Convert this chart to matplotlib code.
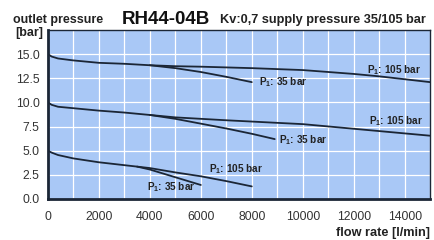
import matplotlib
matplotlib.use('Agg')
import matplotlib.pyplot as plt
from matplotlib.ticker import MultipleLocator

plt.rcParams['font.family'] = ['Liberation Sans', 'DejaVu Sans']
plt.rcParams['mathtext.default'] = 'regular'

# curvas (vazao em l/min, pressao de saida em bar)
x_alta_105 = [0, 150, 400, 1000, 2000, 3000, 4000, 5000, 6000, 8000, 10000, 12000, 13000, 15000]
y_alta_105 = [15.0, 14.75, 14.55, 14.35, 14.1, 14.0, 13.85, 13.75, 13.7, 13.55, 13.35, 12.95, 12.7, 12.1]
x_alta_35 = [4000, 5000, 6000, 7000, 8000]
y_alta_35 = [13.85, 13.55, 13.15, 12.65, 12.1]

x_media_105 = [0, 150, 400, 1000, 2000, 3000, 4000, 5000, 7000, 10000, 12500, 15000]
y_media_105 = [10.0, 9.75, 9.55, 9.4, 9.15, 8.95, 8.7, 8.45, 8.15, 7.75, 7.15, 6.55]
x_media_35 = [4000, 5000, 6000, 7000, 8000, 8900]
y_media_35 = [8.7, 8.3, 7.8, 7.3, 6.75, 6.2]

x_baixa_105 = [0, 150, 400, 1000, 2000, 3000, 4000, 5000, 6000, 7000, 8000]
y_baixa_105 = [5.0, 4.8, 4.55, 4.2, 3.8, 3.5, 3.2, 2.75, 2.35, 1.85, 1.3]
x_baixa_35 = [3500, 4000, 5000, 6000]
y_baixa_35 = [3.35, 3.05, 2.25, 1.45]

cor_linha = '#1b2636'
cor_fundo = '#a9c8f6'

fig = plt.figure(figsize=(4.35, 2.40), dpi=100)
ax = fig.add_axes([0.110, 0.171, 0.879, 0.704])
ax.set_facecolor(cor_fundo)

for xs, ys in [(x_alta_105, y_alta_105), (x_alta_35, y_alta_35),
               (x_media_105, y_media_105), (x_media_35, y_media_35),
               (x_baixa_105, y_baixa_105), (x_baixa_35, y_baixa_35)]:
    ax.plot(xs, ys, color=cor_linha, lw=1.3, solid_capstyle='round')

ax.set_xlim(0, 15000)
ax.set_ylim(0, 17.5)
ax.xaxis.set_major_locator(MultipleLocator(2000))
ax.xaxis.set_minor_locator(MultipleLocator(1000))
ax.yaxis.set_major_locator(MultipleLocator(2.5))
ax.set_yticks([0, 2.5, 5, 7.5, 10, 12.5, 15])
ax.set_yticklabels(['0.0', '2.5', '5.0', '7.5', '10.0', '12.5', '15.0'])
ax.grid(which='both', color='white', lw=0.9)
ax.set_axisbelow(True)
ax.tick_params(which='both', length=0, labelsize=8.8, colors='#333333')
ax.tick_params(axis='x', pad=9)
ax.tick_params(axis='y', pad=6)
for lado in ['left', 'bottom']:
    ax.spines[lado].set_linewidth(2)
    ax.spines[lado].set_color(cor_linha)
for lado in ['top', 'right']:
    ax.spines[lado].set_linewidth(1)
    ax.spines[lado].set_color(cor_linha)

# rotulos das curvas
estilo = dict(fontsize=7.2, fontweight='bold', color='#222222', va='center')
ax.text(14650, 13.35, 'P$_1$: 105 bar', ha='right', **estilo)
ax.text(8280, 12.15, 'P$_1$: 35 bar', ha='left', **estilo)
ax.text(14700, 8.1, 'P$_1$: 105 bar', ha='right', **estilo)
ax.text(9060, 6.1, 'P$_1$: 35 bar', ha='left', **estilo)
ax.text(6330, 3.1, 'P$_1$: 105 bar', ha='left', **estilo)
ax.text(3870, 1.2, 'P$_1$: 35 bar', ha='left', **estilo)

# titulos
fig.text(13 / 435, 1 - 20 / 240, 'outlet pressure', fontsize=9, fontweight='bold', color='#222222', va='center')
fig.text(122 / 435, 1 - 19 / 240, 'RH44-04B', fontsize=13.5, fontweight='bold', color='#111111', va='center')
fig.text(220 / 435, 1 - 20 / 240, 'Kv:0,7 supply pressure 35/105 bar', fontsize=9.2, fontweight='bold', color='#222222', va='center')
fig.text(15 / 435, 1 - 33 / 240, '[bar]', fontsize=9, fontweight='bold', color='#222222', va='center')
fig.text(430 / 435, 1 - 233 / 240, 'flow rate [l/min]', fontsize=9.2, fontweight='bold', color='#222222', va='center', ha='right')

plt.savefig('out.png', dpi=100)
